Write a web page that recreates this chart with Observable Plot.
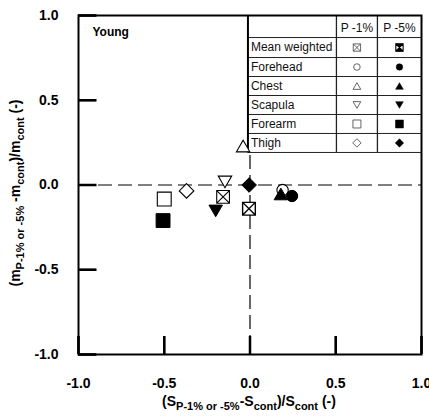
<!DOCTYPE html>
<html>
<head>
<meta charset="utf-8">
<script src="https://cdn.jsdelivr.net/npm/d3@7"></script>
<script src="https://cdn.jsdelivr.net/npm/@observablehq/plot@0.6"></script>
<style>
  html, body { margin: 0; padding: 0; background: white; }
  #chart { width: 429px; height: 417px; }
</style>
</head>
<body>
<div id="chart"></div>
<script>
// ---- data ----
const categories = ["Mean weighted", "Forehead", "Chest", "Scapula", "Forearm", "Thigh"];
const seriesNames = ["P -1%", "P -5%"];
// P -1% (open symbols)
const xP1 = [-0.157, 0.19, -0.04, -0.146, -0.50, -0.37];
const yP1 = [-0.07, -0.03, 0.23, 0.018, -0.083, -0.035];
// P -5% (filled symbols)
const xP5 = [-0.006, 0.245, 0.18, -0.20, -0.507, -0.005];
const yP5 = [-0.14, -0.065, -0.053, -0.153, -0.21, 0.0];
// ticks
const xTicks = [-1, -0.5, 0, 0.5, 1];
const xTickLabels = ["-1.0", "-0.5", "0.0", "0.5", "1.0"];
const yTicks = [-1, -0.5, 0, 0.5, 1];
const yTickLabels = ["-1.0", "-0.5", "0.0", "0.5", "1.0"];
const panelLabel = "Young";

// ---- legend-table layout (data units) ----
const tableCols = [-0.012, 0.504, 0.743, 1.0];
const tableRows = [1.0, 0.870, 0.752, 0.640, 0.528, 0.416, 0.304, 0.192];
// inward tick length (data units)
const tickLenX = 0.106, tickLenY = 0.108;

// ---- symbol glyphs ----
const kindsP1 = ["boxX", "circle", "up", "down", "square", "diamond"];
const kindsP5 = ["boxX", "circle", "up", "down", "square", "diamond"];
function glyph(kind) {
  return {
    draw(ctx, size) {
      const R = Math.sqrt(size / Math.PI);
      if (kind === "circle") {
        const r = 0.78 * R;
        ctx.moveTo(r, 0); ctx.arc(0, 0, r, 0, 2 * Math.PI);
      } else if (kind === "square") {
        const h = 0.95 * R;
        ctx.moveTo(-h, -h); ctx.lineTo(h, -h); ctx.lineTo(h, h); ctx.lineTo(-h, h); ctx.closePath();
      } else if (kind === "boxX") {
        const h = 0.87 * R;
        ctx.moveTo(-h, -h); ctx.lineTo(h, -h); ctx.lineTo(h, h); ctx.lineTo(-h, h); ctx.closePath();
        ctx.moveTo(-h, -h); ctx.lineTo(h, h);
        ctx.moveTo(h, -h); ctx.lineTo(-h, h);
      } else if (kind === "bowtie") {
        const h = 0.87 * R;
        ctx.moveTo(-h, -h); ctx.lineTo(h, -h); ctx.lineTo(0, 0); ctx.closePath();
        ctx.moveTo(-h, h); ctx.lineTo(h, h); ctx.lineTo(0, 0); ctx.closePath();
      } else if (kind === "up") {
        const w = 0.92 * R, H = 1.732 * w;
        ctx.moveTo(0, -H / 2); ctx.lineTo(w, H / 2); ctx.lineTo(-w, H / 2); ctx.closePath();
      } else if (kind === "down") {
        const w = 0.92 * R, H = 1.732 * w;
        ctx.moveTo(0, H / 2); ctx.lineTo(w, -H / 2); ctx.lineTo(-w, -H / 2); ctx.closePath();
      } else if (kind === "diamond") {
        const h = 1.0 * R;
        ctx.moveTo(0, -h); ctx.lineTo(h, 0); ctx.lineTo(0, h); ctx.lineTo(-h, 0); ctx.closePath();
      }
    }
  };
}

const idx = categories.map((d, i) => i);
const rowCenter = i => (tableRows[i + 1] + tableRows[i + 2]) / 2;
const colCenter = j => (tableCols[j + 1] + tableCols[j + 2]) / 2;

const marks = [];
// dashed zero lines
marks.push(Plot.ruleY([0], {stroke: "black", strokeWidth: 1.2, strokeDasharray: "14,6"}));
marks.push(Plot.ruleX([0], {stroke: "black", strokeWidth: 1.2, strokeDasharray: "14,6"}));

// inward ticks (bottom and left)
marks.push(Plot.ruleX(xTicks, {y1: -1, y2: -1 + tickLenX, stroke: "black", strokeWidth: 2.5}));
marks.push(Plot.ruleY(yTicks, {x1: -1, x2: -1 + tickLenY, stroke: "black", strokeWidth: 2.5}));

// legend table
marks.push(Plot.rect([0], {x1: tableCols[0], x2: tableCols[3], y1: tableRows[7], y2: tableRows[0], fill: "white"}));
marks.push(Plot.ruleY(tableRows.slice(1), {x1: tableCols[0], x2: tableCols[3], stroke: "#222", strokeWidth: 1}));
marks.push(Plot.ruleX([tableCols[0]], {y1: tableRows[7], y2: tableRows[0], stroke: "black", strokeWidth: 2}));
marks.push(Plot.ruleX(tableCols.slice(1, 3), {y1: tableRows[7], y2: tableRows[0], stroke: "#222", strokeWidth: 1.3}));
marks.push(Plot.text(categories, {x: tableCols[0], y: (d, i) => rowCenter(i), dx: 3, textAnchor: "start", fontSize: 12, fill: "#111"}));
marks.push(Plot.text(seriesNames, {x: (d, j) => colCenter(j), y: (tableRows[0] + tableRows[1]) / 2 - 0.01, fontSize: 12, fill: "#111"}));
idx.forEach(i => {
  marks.push(Plot.dot([i], {x: colCenter(0), y: rowCenter(i), symbol: glyph(kindsP1[i]), r: 4.2, fill: "white", stroke: "#555", strokeWidth: 0.9}));
  if (i === 0) {
    marks.push(Plot.dot([i], {x: colCenter(1), y: rowCenter(i), symbol: glyph("boxX"), r: 4.2, fill: "white", stroke: "black", strokeWidth: 1.1}));
    marks.push(Plot.dot([i], {x: colCenter(1), y: rowCenter(i), symbol: glyph("bowtie"), r: 4.2, fill: "black", stroke: "black", strokeWidth: 0.5}));
  } else {
    marks.push(Plot.dot([i], {x: colCenter(1), y: rowCenter(i), symbol: glyph(kindsP5[i]), r: 4.2, fill: "black", stroke: "black", strokeWidth: 0.5}));
  }
});

// data points: P -1% (open)
idx.forEach(i => {
  marks.push(Plot.dot([i], {x: d => xP1[d], y: d => yP1[d], symbol: glyph(kindsP1[i]), r: 7.3, fill: "white", stroke: "black", strokeWidth: 1.1}));
});
// data points: P -5% (filled)
idx.forEach(i => {
  const open = i === 0;
  marks.push(Plot.dot([i], {x: d => xP5[d], y: d => yP5[d], symbol: glyph(kindsP5[i]), r: 7.3,
    fill: open ? "white" : "black", stroke: "black", strokeWidth: open ? 1.4 : 1}));
});

// panel label
marks.push(Plot.text([panelLabel], {frameAnchor: "top-left", dx: 14, dy: 12, textAnchor: "start", lineAnchor: "top", fontSize: 12, fontWeight: "bold"}));

// axis ticks pointing inward (shifted axis ticks), then bold tick labels
marks.push(Plot.axisX(xTicks, {anchor: "bottom", tickSize: 18, dy: -18, strokeWidth: 2, tickFormat: () => "", label: null}));
marks.push(Plot.axisY(yTicks, {anchor: "left", tickSize: 18, dx: 18, strokeWidth: 2, tickFormat: () => "", label: null}));
marks.push(Plot.axisX(xTicks, {anchor: "bottom", tickSize: 0, tickPadding: 24, fontSize: 14, fontWeight: "bold", tickFormat: (d, i) => xTickLabels[i], label: null}));
marks.push(Plot.axisY(yTicks, {anchor: "left", tickSize: 0, tickPadding: 20, fontSize: 14, fontWeight: "bold", tickFormat: (d, i) => yTickLabels[i], label: null}));
marks.push(Plot.frame({stroke: "black", strokeWidth: 2}));

const svg = Plot.plot({
  width: 429,
  height: 417,
  marginLeft: 78,
  marginRight: 8,
  marginTop: 15,
  marginBottom: 63,
  x: {domain: [-1, 1]},
  y: {domain: [-1, 1]},
  style: {fontFamily: "'Liberation Sans', Arial, sans-serif", background: "white", color: "black", overflow: "visible"},
  marks
});
document.getElementById("chart").appendChild(svg);

// axis titles with subscripts
function addTitle(parts, attrs) {
  const t = d3.select(svg).append("text")
    .attr("text-anchor", "middle")
    .attr("font-family", "'Liberation Sans', Arial, sans-serif")
    .attr("font-weight", "bold")
    .attr("font-size", 14)
    .attr("fill", "black");
  Object.entries(attrs).forEach(([k, v]) => t.attr(k, v));
  let shifted = false;
  parts.forEach(([txt, sub]) => {
    const s = t.append("tspan").text(txt);
    if (sub && !shifted) { s.attr("font-size", 11).attr("dy", 4); shifted = true; }
    else if (sub) { s.attr("font-size", 11); }
    else if (!sub && shifted) { s.attr("dy", -4); shifted = false; }
  });
}
addTitle([["(S", false], ["P-1% or -5%", true], ["-S", false], ["cont", true], [")/S", false], ["cont", true], [" (-)", false]],
  {x: 249, y: 406});
addTitle([["(m", false], ["P-1% or -5%", true], [" -m", false], ["cont", true], [")/m", false], ["cont", true], [" (-)", false]],
  {transform: "translate(20,193) rotate(-90)"});
</script>
</body>
</html>
